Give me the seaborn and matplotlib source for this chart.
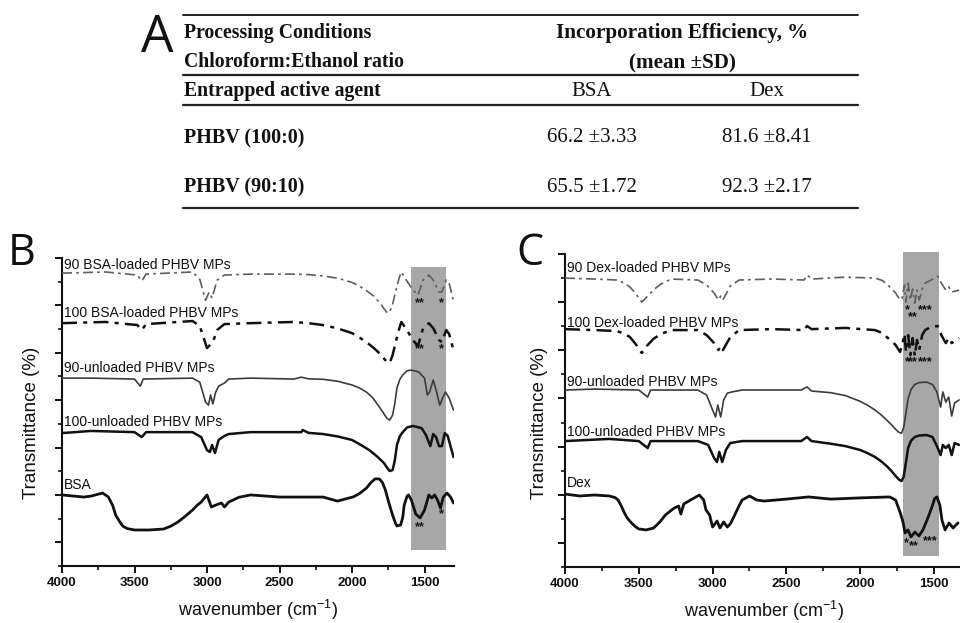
import numpy as np
import pandas as pd
import matplotlib
matplotlib.use("Agg")
import matplotlib.pyplot as plt
from matplotlib.lines import Line2D
from matplotlib.ticker import MultipleLocator
import seaborn as sns

# ---------------- Table (panel A) ----------------
table_header_left = ["Processing Conditions", "Chloroform:Ethanol ratio", "Entrapped active agent"]
table_header_right = ["Incorporation Efficiency, %", "(mean \u00b1SD)"]
agents = ["BSA", "Dex"]
conditions = ["PHBV (100:0)", "PHBV (90:10)"]
eff_mean = {"BSA": [66.2, 65.5], "Dex": [81.6, 92.3]}
eff_sd = {"BSA": [3.33, 1.72], "Dex": [8.41, 2.17]}

# ---------------- Panel B spectra: (wavenumber cm-1, relative transmittance) ----------------
b_90_loaded = [(4000, 12.36), (3700, 12.41), (3480, 12.28), (3450, 12.03), (3420, 12.32), (3100, 12.41),
               (3050, 12.11), (3010, 11.22), (2985, 11.56), (2965, 11.31), (2930, 12.07), (2880, 12.28),
               (2700, 12.32), (2400, 12.32), (2300, 12.30), (2200, 12.24), (2100, 12.15), (2000, 11.97),
               (1950, 11.82), (1900, 11.62), (1850, 11.39), (1800, 11.05), (1775, 10.82), (1755, 10.68),
               (1740, 10.72), (1720, 11.05), (1700, 11.56), (1675, 12.15), (1660, 12.41), (1630, 12.11),
               (1580, 11.65), (1545, 11.43), (1510, 12.07), (1470, 12.28), (1440, 12.07), (1400, 11.56),
               (1380, 11.56), (1350, 12.07), (1330, 11.94), (1300, 11.18)]

b_100_loaded = [(4000, 10.25), (3700, 10.30), (3480, 10.17), (3450, 9.96), (3420, 10.21), (3100, 10.34),
                (3050, 10.13), (3000, 9.20), (2960, 9.45), (2930, 9.96), (2880, 10.21), (2700, 10.25),
                (2400, 10.30), (2300, 10.25), (2200, 10.17), (2100, 10.03), (2000, 9.83), (1950, 9.65),
                (1900, 9.45), (1850, 9.20), (1800, 8.92), (1775, 8.72), (1755, 8.60), (1740, 8.57),
                (1720, 8.90), (1700, 9.41), (1675, 10.00), (1660, 10.30), (1630, 10.04), (1580, 9.54),
                (1545, 9.28), (1510, 10.04), (1470, 10.25), (1440, 10.04), (1400, 9.54), (1380, 9.45),
                (1350, 9.96), (1330, 9.79), (1300, 9.11)]

b_90_unloaded = [(4000, 7.93), (3800, 7.93), (3500, 7.89), (3460, 7.59), (3440, 7.89), (3100, 7.93),
                 (3050, 7.76), (3010, 6.92), (2990, 6.79), (2975, 7.22), (2960, 6.84), (2940, 7.34),
                 (2920, 7.59), (2880, 7.72), (2850, 7.89), (2700, 7.93), (2400, 7.89), (2350, 7.97),
                 (2300, 7.90), (2200, 7.88), (2100, 7.80), (2000, 7.64), (1950, 7.52), (1900, 7.34),
                 (1860, 7.12), (1820, 6.79), (1790, 6.52), (1760, 6.24), (1740, 6.16), (1720, 6.37),
                 (1705, 6.85), (1690, 7.51), (1670, 7.88), (1650, 8.06), (1620, 8.24), (1590, 8.27),
                 (1540, 8.19), (1500, 7.93), (1480, 7.22), (1465, 7.34), (1440, 7.85), (1420, 7.43),
                 (1395, 6.79), (1375, 7.09), (1355, 7.34), (1330, 7.09), (1300, 6.58)]

b_100_unloaded = [(4000, 5.61), (3800, 5.70), (3500, 5.65), (3450, 5.44), (3420, 5.65), (3100, 5.65),
                  (3040, 5.44), (3000, 4.89), (2980, 4.81), (2965, 5.11), (2945, 4.77), (2920, 5.32),
                  (2880, 5.49), (2850, 5.57), (2700, 5.65), (2350, 5.65), (2340, 5.74), (2300, 5.62),
                  (2200, 5.57), (2100, 5.47), (2000, 5.32), (1950, 5.15), (1880, 4.89), (1830, 4.64),
                  (1780, 4.35), (1755, 4.12), (1740, 4.01), (1720, 4.05), (1705, 4.45), (1690, 5.11),
                  (1670, 5.48), (1650, 5.65), (1620, 5.85), (1580, 5.91), (1520, 5.82), (1490, 5.53),
                  (1460, 5.06), (1440, 5.57), (1420, 5.44), (1400, 5.06), (1380, 5.06), (1360, 5.61),
                  (1340, 5.49), (1300, 4.60)]

bsa = [(4000, 3.00), (3850, 2.91), (3800, 2.95), (3720, 3.08), (3680, 2.91), (3650, 2.55), (3630, 2.15),
       (3600, 1.85), (3580, 1.68), (3550, 1.58), (3500, 1.52), (3400, 1.52), (3300, 1.56), (3250, 1.68),
       (3200, 1.86), (3150, 2.10), (3100, 2.36), (3070, 2.55), (3040, 2.70), (3000, 3.00), (2970, 2.49),
       (2940, 2.57), (2900, 2.66), (2880, 2.49), (2850, 2.70), (2780, 2.90), (2700, 3.00), (2500, 2.91),
       (2200, 2.91), (2100, 2.74), (1990, 2.92), (1950, 3.05), (1900, 3.29), (1870, 3.52), (1840, 3.68),
       (1810, 3.67), (1790, 3.52), (1770, 3.21), (1745, 2.65), (1720, 2.15), (1700, 1.80), (1690, 1.69),
       (1665, 1.73), (1650, 2.05), (1640, 2.57), (1620, 2.95), (1610, 3.00), (1590, 2.78), (1560, 2.19),
       (1530, 2.03), (1500, 2.36), (1470, 3.00), (1450, 2.87), (1430, 3.00), (1410, 2.78), (1390, 2.45),
       (1370, 2.91), (1345, 3.08), (1320, 2.91), (1300, 2.66)]

# ---------------- Panel C spectra ----------------
c_90_loaded = [(4000, 12.00), (3800, 11.96), (3650, 11.92), (3600, 11.80), (3560, 11.63), (3520, 11.35),
               (3480, 11.00), (3440, 11.25), (3400, 11.52), (3350, 11.75), (3280, 11.96), (3100, 11.92),
               (3040, 11.71), (2990, 11.38), (2960, 11.09), (2945, 11.25), (2930, 11.09), (2880, 11.67),
               (2820, 11.92), (2600, 11.96), (2380, 11.92), (2360, 12.13), (2330, 11.96), (2100, 12.04),
               (1900, 12.00), (1850, 11.90), (1820, 11.75), (1790, 11.58), (1760, 11.38), (1730, 11.09),
               (1715, 11.17), (1700, 11.71), (1690, 11.00), (1675, 11.79), (1660, 11.09), (1645, 11.54),
               (1630, 10.96), (1615, 11.50), (1600, 11.09), (1580, 11.54), (1560, 11.79), (1520, 11.92),
               (1475, 12.08), (1450, 11.79), (1420, 11.50), (1400, 11.63), (1380, 11.42), (1330, 11.50)]

c_100_loaded = [(4000, 9.88), (3800, 9.84), (3650, 9.80), (3600, 9.70), (3560, 9.55), (3520, 9.25),
                (3480, 8.89), (3440, 9.22), (3400, 9.48), (3350, 9.68), (3280, 9.84), (3100, 9.84),
                (3040, 9.63), (2990, 9.30), (2960, 9.01), (2945, 9.18), (2930, 9.01), (2880, 9.55),
                (2820, 9.84), (2600, 9.88), (2380, 9.84), (2360, 10.01), (2330, 9.88), (2100, 9.93),
                (1900, 9.84), (1850, 9.72), (1820, 9.55), (1790, 9.40), (1760, 9.22), (1730, 8.93),
                (1715, 9.22), (1700, 9.68), (1690, 8.93), (1675, 9.63), (1660, 8.80), (1645, 9.51),
                (1630, 8.76), (1615, 9.43), (1600, 9.01), (1580, 9.63), (1560, 9.84), (1520, 9.97),
                (1475, 10.01), (1450, 9.63), (1420, 9.30), (1400, 9.51), (1380, 9.30), (1330, 9.51)]

c_90_unloaded = [(4000, 7.35), (3800, 7.39), (3500, 7.35), (3440, 7.06), (3420, 7.35), (3100, 7.35),
                 (3040, 7.14), (3000, 6.52), (2980, 6.23), (2965, 6.73), (2945, 6.23), (2925, 6.94),
                 (2900, 7.22), (2870, 7.27), (2800, 7.35), (2400, 7.35), (2360, 7.48), (2330, 7.31),
                 (2200, 7.24), (2100, 7.12), (2000, 6.88), (1950, 6.72), (1900, 6.52), (1860, 6.33),
                 (1820, 6.10), (1790, 5.92), (1760, 5.72), (1735, 5.58), (1720, 5.56), (1705, 5.80),
                 (1690, 6.40), (1675, 7.00), (1655, 7.38), (1630, 7.58), (1600, 7.66), (1550, 7.68),
                 (1510, 7.58), (1480, 7.27), (1455, 6.64), (1440, 7.27), (1420, 6.85), (1400, 7.06),
                 (1380, 6.27), (1360, 6.81), (1330, 6.94)]

c_100_unloaded = [(4000, 5.23), (3700, 5.32), (3500, 5.23), (3440, 4.94), (3420, 5.23), (3100, 5.23),
                  (3030, 5.07), (2990, 4.53), (2970, 4.36), (2955, 4.78), (2935, 4.36), (2910, 4.86),
                  (2880, 5.15), (2800, 5.23), (2400, 5.23), (2360, 5.40), (2330, 5.23), (2200, 5.12),
                  (2100, 5.02), (2000, 4.86), (1950, 4.73), (1900, 4.57), (1860, 4.40), (1820, 4.19),
                  (1790, 4.00), (1760, 3.78), (1735, 3.62), (1720, 3.57), (1705, 3.75), (1690, 4.35),
                  (1675, 4.95), (1655, 5.25), (1630, 5.40), (1600, 5.46), (1550, 5.48), (1510, 5.40),
                  (1480, 5.02), (1455, 4.65), (1440, 5.07), (1420, 4.94), (1400, 5.07), (1380, 4.65),
                  (1360, 5.15), (1330, 5.07)]

dex = [(4000, 3.03), (3900, 2.95), (3800, 2.99), (3700, 2.95), (3660, 2.88), (3640, 2.78), (3620, 2.55),
       (3600, 2.28), (3580, 2.05), (3550, 1.83), (3520, 1.66), (3500, 1.58), (3450, 1.54), (3400, 1.62),
       (3360, 1.85), (3320, 2.16), (3260, 2.45), (3230, 2.53), (3215, 2.20), (3195, 2.62), (3150, 2.78),
       (3090, 2.99), (3060, 2.78), (3045, 2.37), (3020, 2.16), (3000, 1.66), (2970, 1.91), (2950, 1.62),
       (2925, 1.87), (2900, 1.66), (2880, 1.79), (2850, 2.16), (2820, 2.55), (2800, 2.78), (2750, 2.95),
       (2700, 2.78), (2650, 2.74), (2500, 2.82), (2350, 2.91), (2200, 2.82), (2000, 2.87), (1800, 2.91),
       (1760, 2.78), (1730, 2.28), (1710, 1.87), (1696, 1.41), (1676, 1.54), (1656, 1.25), (1629, 1.45),
       (1602, 1.29), (1575, 1.54), (1547, 1.95), (1514, 2.49), (1495, 2.85), (1480, 2.91), (1460, 2.57),
       (1446, 1.95), (1425, 1.54), (1398, 1.83), (1371, 1.62), (1337, 1.83)]

b_labels = ["90 BSA-loaded PHBV MPs", "100 BSA-loaded PHBV MPs", "90-unloaded PHBV MPs",
            "100-unloaded PHBV MPs", "BSA"]
b_label_y = [12.70, 10.68, 8.35, 6.08, 3.42]
c_labels = ["90 Dex-loaded PHBV MPs", "100 Dex-loaded PHBV MPs", "90-unloaded PHBV MPs",
            "100-unloaded PHBV MPs", "Dex"]
c_label_y = [12.42, 10.13, 7.68, 5.61, 3.49]

# star annotations (text, wavenumber, level)
b_stars = [("**", 1531, 11.10), ("*", 1386, 11.10), ("**", 1531, 9.16), ("*", 1386, 9.16),
           ("**", 1531, 1.65), ("*", 1386, 2.19)]
c_stars = [("*", 1683, 10.67), ("**", 1642, 10.38), ("***", 1561, 10.67),
           ("*", 1683, 8.51), ("**", 1642, 8.51), ("***", 1561, 8.51),
           ("*", 1690, 1.00), ("**", 1636, 0.87), ("***", 1527, 1.08)]

b_band = (1593, 1352, 0.68, 12.62)
c_band = (1710, 1466, 0.46, 13.08)

# ---------------- Styling ----------------
sns.set_style("ticks")
plt.rcParams["font.family"] = ["Liberation Sans", "DejaVu Sans"]

fig = plt.figure(figsize=(9.6, 6.23), dpi=100)

DASHDOT = (0, (6, 2.5, 1.6, 2.5))
styles = [dict(color="#5e5e5e", lw=1.2, ls=DASHDOT),
          dict(color="#111111", lw=1.8, ls=DASHDOT),
          dict(color="#3c3c3c", lw=1.2, ls="-"),
          dict(color="#111111", lw=1.8, ls="-"),
          dict(color="#111111", lw=2.0, ls="-")]


def draw_panel(ax, series, labels, label_y, stars, band, xright, ylab_xy):
    ax.set_xlim(4000, xright)
    ax.set_ylim(0, 13)
    x0, x1, y0, y1 = band
    ax.fill_between([x1, x0], [y0, y0], [y1, y1], color="#a7a7a7", lw=0, zorder=0, clip_on=False)
    for pts, st in zip(series, styles):
        df = pd.DataFrame(pts, columns=["wn", "t"])
        sns.lineplot(data=df, x="wn", y="t", ax=ax, color=st["color"], linewidth=st["lw"],
                     linestyle=st["ls"], estimator=None, sort=False, zorder=3)
    for lab, yy in zip(labels, label_y):
        ax.text(3985, yy, lab, fontsize=10, ha="left", va="center", color="#111111", zorder=4)
    for s, wnx, yy in stars:
        ax.text(wnx, yy, s, fontsize=9, fontweight="bold", ha="center", va="center",
                color="#111111", zorder=4)
    sns.despine(ax=ax)
    for sp in ("left", "bottom"):
        ax.spines[sp].set_linewidth(1.5)
        ax.spines[sp].set_color("#111111")
    ax.xaxis.set_major_locator(MultipleLocator(500))
    ax.xaxis.set_minor_locator(MultipleLocator(250))
    ax.set_yticks(np.arange(1, 14, 2))
    ax.yaxis.set_minor_locator(MultipleLocator(1))
    ax.set_yticklabels([])
    ax.tick_params(axis="both", which="major", direction="out", length=5, width=1.4, color="#111111")
    ax.tick_params(axis="both", which="minor", direction="out", length=3, width=1.2, color="#111111")
    ax.tick_params(axis="x", labelsize=9.5, pad=3, labelcolor="#111111")
    for lbl in ax.get_xticklabels():
        lbl.set_fontweight("bold")
    ax.set_xlabel("wavenumber (cm$^{\\mathregular{-1}}$)", fontsize=13, labelpad=6, color="#111111")
    ax.set_ylabel("Transmittance (%)", fontsize=13.5, color="#111111")
    ax.yaxis.set_label_coords(*ylab_xy)
    ax.patch.set_alpha(0)


W, H = 960.0, 623.0
axB = fig.add_axes([62 / W, 1 - 566 / H, 391.5 / W, 308 / H])
draw_panel(axB, [b_90_loaded, b_100_loaded, b_90_unloaded, b_100_unloaded, bsa],
           b_labels, b_label_y, b_stars, b_band, 1300, (-0.057, 0.465))

axC = fig.add_axes([565 / W, 1 - 567 / H, 398.5 / W, 313 / H])
draw_panel(axC, [c_90_loaded, c_100_loaded, c_90_unloaded, c_100_unloaded, dex],
           c_labels, c_label_y, c_stars, c_band, 1300, (-0.043, 0.46))

# ---------------- Table A (pixel overlay) ----------------
axT = fig.add_axes([0, 0, 1, 1])
axT.set_xlim(0, W)
axT.set_ylim(H, 0)
axT.axis("off")
axT.patch.set_alpha(0)

for yl, lw in [(15, 1.4), (75, 1.6), (105, 1.6), (208, 1.6)]:
    axT.add_line(Line2D([183, 858], [yl, yl], color="#222222", lw=lw))

serif = ["Liberation Serif", "DejaVu Serif"]
for txt, yy in zip(table_header_left, [33, 62, 91]):
    axT.text(184, yy, txt, fontsize=14.2, fontweight="bold", family=serif, ha="left", va="center",
             color="#111111")
for txt, yy in zip(table_header_right, [33, 63]):
    axT.text(682, yy, txt, fontsize=15.2, fontweight="bold", family=serif, ha="center", va="center",
             color="#111111")
col_x = {"BSA": 592, "Dex": 767}
for a in agents:
    axT.text(col_x[a], 91, a, fontsize=15, family=serif, ha="center", va="center", color="#111111")
row_y = [138, 187]
for i, cond in enumerate(conditions):
    axT.text(184, row_y[i], cond, fontsize=14.5, fontweight="bold", family=serif, ha="left", va="center",
             color="#111111")
    for a in agents:
        axT.text(col_x[a], row_y[i], f"{eff_mean[a][i]:.1f} \u00b1{eff_sd[a][i]:.2f}", fontsize=15,
                 family=serif, ha="center", va="center", color="#111111")

# panel letters
letter_font = ["Open Sans", "DejaVu Sans"]
axT.text(141, 38, "A", fontsize=37, family=letter_font, ha="left", va="center", color="#111111")
axT.text(8, 254, "B", fontsize=31, family=letter_font, ha="left", va="center", color="#111111")
axT.text(516, 254, "C", fontsize=31, family=letter_font, ha="left", va="center", color="#111111")

fig.savefig("out.png", dpi=100)
